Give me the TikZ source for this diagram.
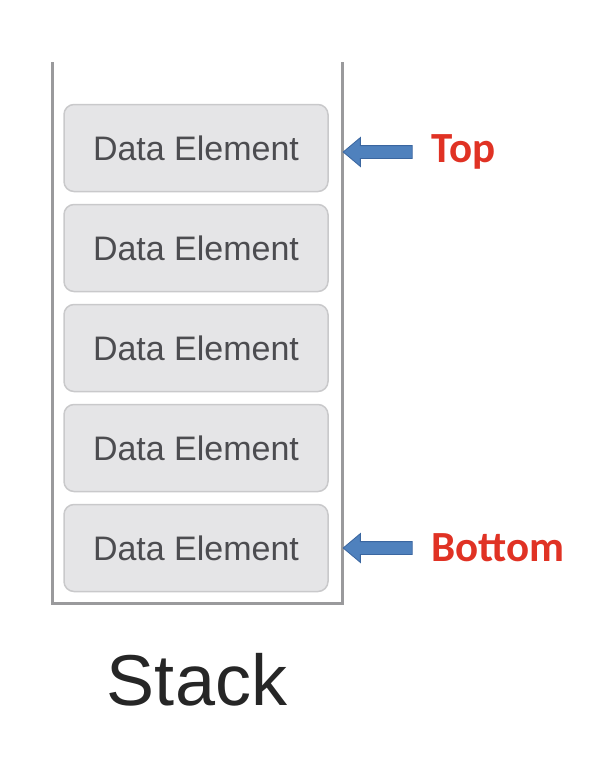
\documentclass[tikz,border=0pt]{standalone}
\usepackage{fontspec}
\setmainfont{Liberation Sans}
\newfontfamily\labelfont{Carlito}
\usetikzlibrary{shapes.arrows, positioning}

\definecolor{elemfill}{HTML}{E5E5E7}
\definecolor{elemdraw}{HTML}{C9C9CB}
\definecolor{elemtext}{HTML}{4C4C50}
\definecolor{wallgray}{HTML}{9A9A9C}
\definecolor{ptrfill}{HTML}{4F81BD}
\definecolor{ptrdraw}{HTML}{3A66A0}
\definecolor{ptrred}{HTML}{E03224}

\tikzset{
  element/.style={draw=elemdraw, fill=elemfill, line width=1.5pt, rounded corners=10pt,
    minimum width=264pt, minimum height=87pt, inner sep=0pt,
    font=\fontsize{34}{34}\selectfont, text=elemtext},
  pointer/.style={single arrow, shape border rotate=180, draw=ptrdraw, fill=ptrfill,
    line width=0.8pt, minimum height=69pt, inner xsep=0pt, inner ysep=6pt,
    single arrow head extend=8pt, single arrow tip angle=80},
  ptrlabel/.style={anchor=west, text=ptrred, font=\labelfont\bfseries\fontsize{43}{43}\selectfont}
}

\begin{document}
\begin{tikzpicture}[x=1pt, y=-1pt]
                \useasboundingbox (0,0) rectangle (590,774);

                % Container
                \draw[wallgray, line width=3pt] (52,62) -- (52,603) -- (342,603) -- (342,62);

                % Data elements
                \node[element] (e1) at (196,148) {Data Element};
                \node[element] (e2) at (196,248) {Data Element};
                \node[element] (e3) at (196,348) {Data Element};
                \node[element] (e4) at (196,448) {Data Element};
                \node[element] (e5) at (196,548) {Data Element};

                % Pointers
                \node[pointer] (ptop) at (381.5,152) {};
                \node[ptrlabel] (ltop) at (428,152) {Top};
                \node[pointer] (pbot) at (381.5,548) {};
                \node[ptrlabel] (lbot) at (428,548) {Bottom};

                % Caption
                \node[font=\fontsize{72}{72}\selectfont, text=black!85] (cap) at (197,680) {Stack};
            \end{tikzpicture}
\end{document}
